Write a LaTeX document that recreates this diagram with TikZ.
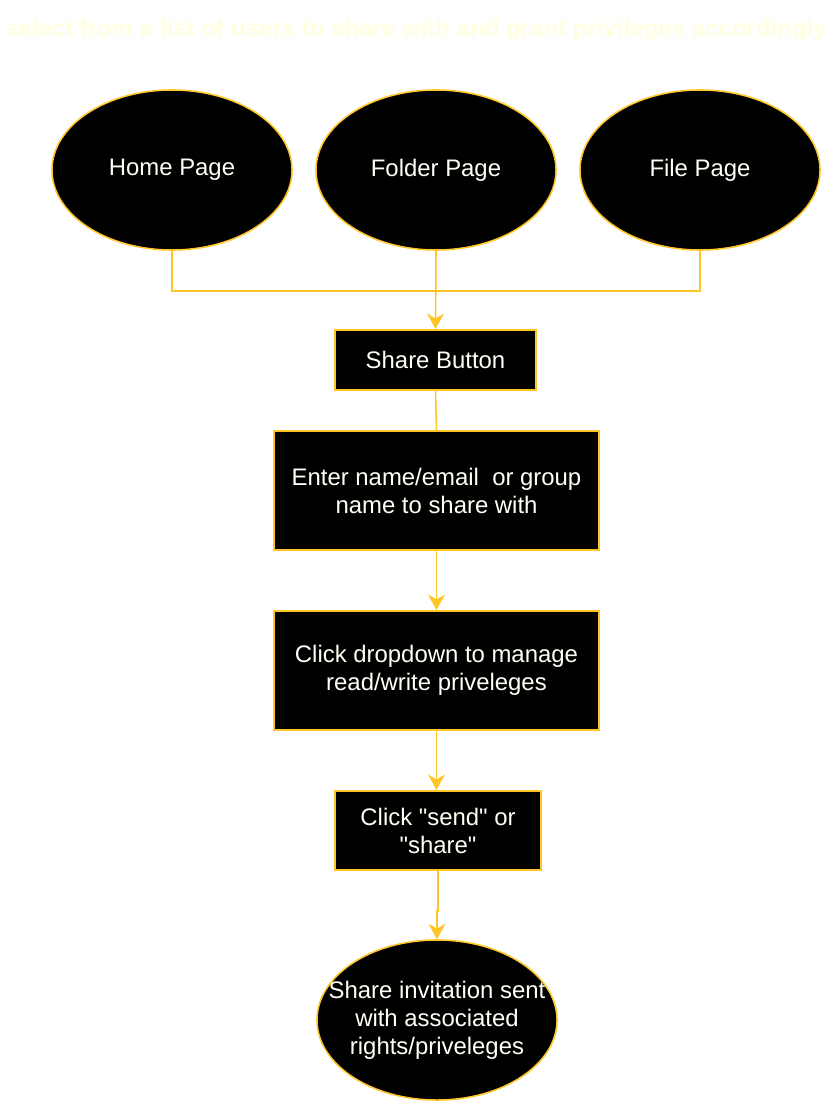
\documentclass[tikz,border=0pt]{standalone}
\usepackage{fontspec}
\setmainfont{Liberation Sans}[Ligatures=TeXOff]
\usetikzlibrary{arrows.meta,shapes.geometric}

\definecolor{gold}{RGB}{255,196,37}
\definecolor{paleyellow}{RGB}{255,255,224}
\definecolor{offwhite}{RGB}{255,255,245}

\tikzset{
  page/.style={ellipse,draw=gold,line width=1.1pt,fill=black,text=offwhite,
    minimum width=6cm,minimum height=4cm,inner sep=0pt,font=\fontsize{17}{20}\selectfont},
  stepbox/.style={rectangle,draw=gold,line width=1.4pt,fill=black,text=offwhite,
    align=center,inner sep=0pt,font=\fontsize{17}{19.9}\selectfont},
  link/.style={draw=gold,line width=1.1pt},
  flow/.style={link,-{Stealth[length=11pt,width=12pt,inset=3.5pt]}}
}

\begin{document}
\begin{tikzpicture}[x=0.025cm,y=-0.025cm]
\useasboundingbox (0,0) rectangle (832,1102);

% Title
\node[text=paleyellow,font=\bfseries\fontsize{17.1}{20}\selectfont] (title) at (416,30)
  {select from a list of users to share with and grant privileges accordingly};

% Entry pages
\node[page] (home) at (172,170) {Home Page};
\node[page] (folder) at (436,170) {Folder Page};
\node[page] (file) at (700,170) {File Page};

% Steps
\node[stepbox,minimum width=5.025cm,minimum height=1.5cm] (share) at (435.5,360) {Share Button};
\node[stepbox,minimum width=8.125cm,minimum height=2.975cm] (enter) at (436.5,490.5)
  {Enter name/email\ \ or group\\name to share with};
\node[stepbox,minimum width=8.125cm,minimum height=2.975cm] (drop) at (436.5,670.5)
  {Click dropdown to manage\\read/write priveleges};
\node[stepbox,minimum width=5.15cm,minimum height=1.975cm] (send) at (438,830.5)
  {Click "send" or\\"share"};

% Result
\node[page,align=center,inner xsep=-0.7cm,font=\fontsize{17}{19.9}\selectfont] (sent) at (437,1020)
  {Share invitation sent\\with associated\\rights/priveleges};

% Connectors
\coordinate (hub) at (436,291);
\draw[link] (home.south) |- (hub);
\draw[link] (file.south) |- (hub);
\draw[flow] (folder.south) -- (share.north);
\draw[link] (share.south) -- (enter.north);
\draw[flow] (enter.south) -- (drop.south |- drop.north);
\draw[flow] (drop.south) -- (drop.south |- send.north);
\draw[flow] (send.south) -- ++(0,40) -| (sent.north);

\end{tikzpicture}
\end{document}
